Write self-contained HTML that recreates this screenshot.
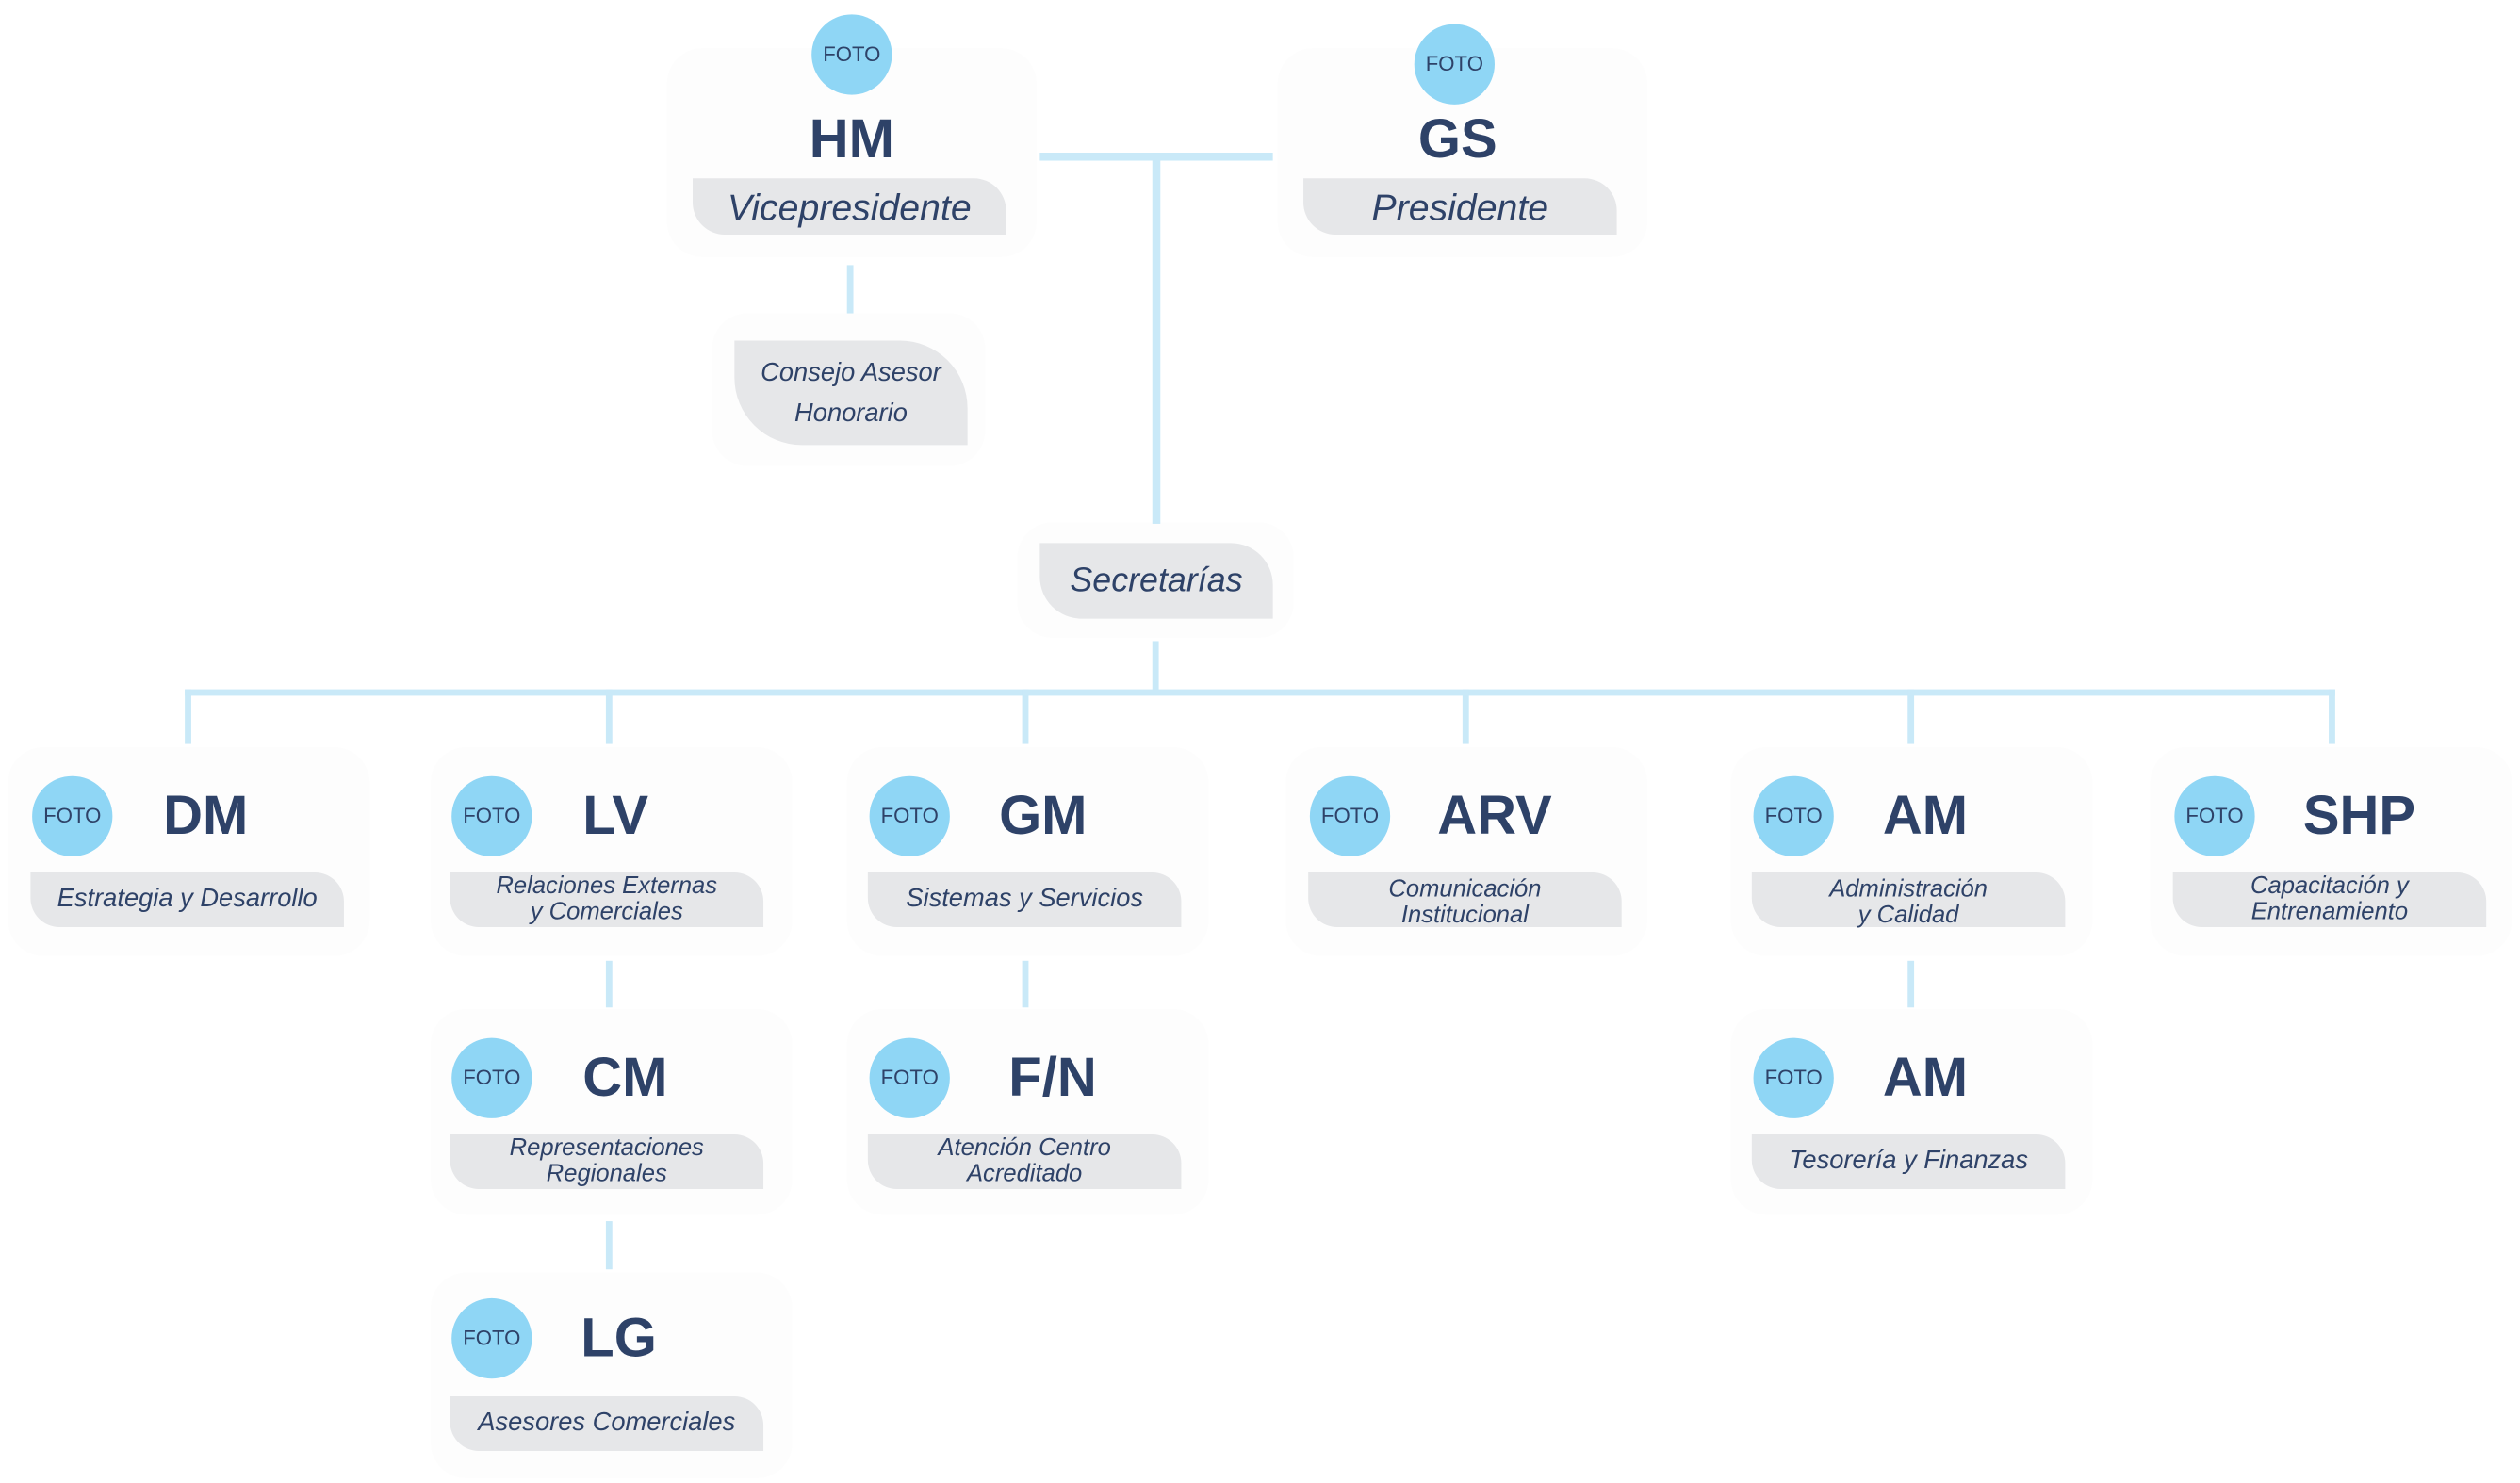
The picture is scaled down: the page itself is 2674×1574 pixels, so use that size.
<!DOCTYPE html>
<html><head><meta charset="utf-8"><style>
html,body{margin:0;padding:0;background:#fff;}
#w{position:relative;width:1568px;height:923px;transform:scale(1.70536);transform-origin:0 0;font-family:"Liberation Sans",sans-serif;color:#2e4268;}
.l{position:absolute;background:#c9e9f8;}
.c{position:absolute;width:50px;height:50px;border-radius:50%;background:#8fd6f5;font-size:13px;line-height:50px;text-align:center;color:#2e4268;}
.a{position:absolute;font-weight:bold;font-size:34px;line-height:40px;width:160px;text-align:center;color:#2e4268;}
.p{position:absolute;background:#e6e7e9;border-radius:0 18px 0 18px;display:flex;align-items:center;justify-content:center;text-align:center;font-style:italic;color:#2e4268;font-size:16px;line-height:16px;}
.s{position:absolute;background:#fdfdfd;border-radius:22px;}
</style></head><body><div id="w">
<div class="s" style="left:415px;top:30px;width:230px;height:130px"></div>
<div class="s" style="left:795px;top:30px;width:230px;height:130px"></div>
<div class="s" style="left:443px;top:195px;width:170px;height:95px"></div>
<div class="s" style="left:633px;top:325px;width:172px;height:72px"></div>

<div class="l" style="left:647px;top:95px;width:145px;height:5px"></div>
<div class="l" style="left:717px;top:95px;width:5px;height:231px"></div>
<div class="l" style="left:527px;top:165px;width:4px;height:30px"></div>
<div class="l" style="left:717px;top:399px;width:4px;height:32px"></div>
<div class="l" style="left:115px;top:429px;width:1338px;height:4px"></div>
<div class="l" style="left:115px;top:429px;width:4px;height:34px"></div>
<div class="l" style="left:377px;top:429px;width:4px;height:34px"></div>
<div class="l" style="left:636px;top:429px;width:4px;height:34px"></div>
<div class="l" style="left:910px;top:429px;width:4px;height:34px"></div>
<div class="l" style="left:1187px;top:429px;width:4px;height:34px"></div>
<div class="l" style="left:1449px;top:429px;width:4px;height:34px"></div>
<div class="l" style="left:377px;top:598px;width:4px;height:29px"></div>
<div class="l" style="left:636px;top:598px;width:4px;height:29px"></div>
<div class="l" style="left:1187px;top:598px;width:4px;height:29px"></div>
<div class="l" style="left:377px;top:760px;width:4px;height:30px"></div>

<div class="c" style="left:505px;top:9px">FOTO</div>
<div class="a" style="left:450px;top:67px">HM</div>
<div class="p" style="left:431px;top:111px;width:195px;height:35px;border-radius:0 20px 0 20px;font-size:23px">Vicepresidente</div>
<div class="c" style="left:880px;top:15px">FOTO</div>
<div class="a" style="left:827px;top:67px">GS</div>
<div class="p" style="left:811px;top:111px;width:195px;height:35px;border-radius:0 20px 0 20px;font-size:23px">Presidente</div>
<div class="p" style="left:457px;top:212px;width:145px;height:65px;border-radius:0 42px 0 42px;font-size:16px;line-height:25px">Consejo Asesor<br>Honorario</div>
<div class="p" style="left:647px;top:338px;width:145px;height:47px;border-radius:0 26px 0 26px;font-size:21px">Secretarías</div>

<div class="s" style="left:5px;top:465px;width:225px;height:130px"></div>
<div class="s" style="left:268px;top:465px;width:225px;height:130px"></div>
<div class="s" style="left:527px;top:465px;width:225px;height:130px"></div>
<div class="s" style="left:800px;top:465px;width:225px;height:130px"></div>
<div class="s" style="left:1077px;top:465px;width:225px;height:130px"></div>
<div class="s" style="left:1338px;top:465px;width:225px;height:130px"></div>

<div class="c" style="left:20px;top:483px">FOTO</div><div class="a" style="left:48px;top:488px">DM</div>
<div class="p" style="left:19px;top:543px;width:195px;height:34px">Estrategia y Desarrollo</div>
<div class="c" style="left:281px;top:483px">FOTO</div><div class="a" style="left:303px;top:488px">LV</div>
<div class="p" style="left:280px;top:543px;width:195px;height:34px;font-size:15px">Relaciones Externas<br>y Comerciales</div>
<div class="c" style="left:541px;top:483px">FOTO</div><div class="a" style="left:569px;top:488px">GM</div>
<div class="p" style="left:540px;top:543px;width:195px;height:34px">Sistemas y Servicios</div>
<div class="c" style="left:815px;top:483px">FOTO</div><div class="a" style="left:850px;top:488px">ARV</div>
<div class="p" style="left:814px;top:543px;width:195px;height:34px;font-size:15px;padding-top:4px;box-sizing:border-box">Comunicación<br>Institucional</div>
<div class="c" style="left:1091px;top:483px">FOTO</div><div class="a" style="left:1118px;top:488px">AM</div>
<div class="p" style="left:1090px;top:543px;width:195px;height:34px;font-size:15px;padding-top:4px;box-sizing:border-box">Administración<br>y Calidad</div>
<div class="c" style="left:1353px;top:483px">FOTO</div><div class="a" style="left:1388px;top:488px">SHP</div>
<div class="p" style="left:1352px;top:543px;width:195px;height:34px;font-size:15px">Capacitación y<br>Entrenamiento</div>

<div class="s" style="left:268px;top:628px;width:225px;height:128px"></div>
<div class="s" style="left:527px;top:628px;width:225px;height:128px"></div>
<div class="s" style="left:1077px;top:628px;width:225px;height:128px"></div>
<div class="c" style="left:281px;top:646px">FOTO</div><div class="a" style="left:309px;top:651px">CM</div>
<div class="p" style="left:280px;top:706px;width:195px;height:34px;font-size:15px">Representaciones<br>Regionales</div>
<div class="c" style="left:541px;top:646px">FOTO</div><div class="a" style="left:575px;top:651px">F/N</div>
<div class="p" style="left:540px;top:706px;width:195px;height:34px;font-size:15px">Atención Centro<br>Acreditado</div>
<div class="c" style="left:1091px;top:646px">FOTO</div><div class="a" style="left:1118px;top:651px">AM</div>
<div class="p" style="left:1090px;top:706px;width:195px;height:34px">Tesorería y Finanzas</div>

<div class="s" style="left:268px;top:792px;width:225px;height:128px"></div>
<div class="c" style="left:281px;top:808px">FOTO</div><div class="a" style="left:305px;top:813px">LG</div>
<div class="p" style="left:280px;top:869px;width:195px;height:34px">Asesores Comerciales</div>
</div></body></html>
